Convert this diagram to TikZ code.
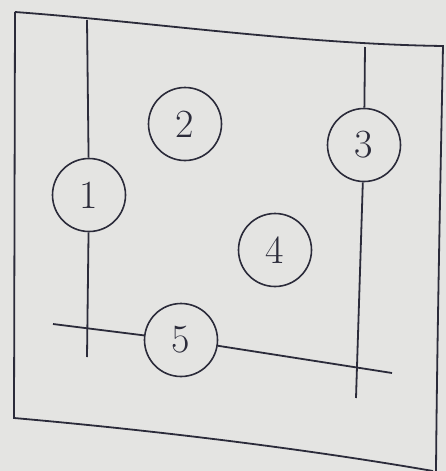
\documentclass[tikz,border=0pt]{standalone}
\begin{document}
\begin{tikzpicture}[x=1pt,y=-1pt,
  ink/.style={draw=inkc,line width=1.8pt},
  numc/.style={circle,draw=inkc,line width=1.6pt,minimum size=73pt,inner sep=0pt,
    text=inkc,font=\fontsize{40}{40}\selectfont},
  ]
\definecolor{inkc}{HTML}{2B2B3A}
\definecolor{paper}{HTML}{E4E4E2}
\fill[paper] (0,0) rectangle (446,471);
\useasboundingbox (0,0) rectangle (446,471);
% frame
\draw[ink] (15,12) .. controls (150,22) and (300,44) .. (443,46)
  .. controls (440,200) and (437,350) .. (436,471);
\draw[ink] (15,12) -- (14,418) .. controls (150,430) and (300,448) .. (433,471);
% circles
\node[numc] (c1) at (89,195) {1};
\node[numc] (c2) at (185,124) {2};
\node[numc] (c3) at (364,145) {3};
\node[numc] (c4) at (275,250) {4};
\node[numc] (c5) at (181,340) {5};
% line ends
\coordinate (v1t) at (87,20);
\coordinate (v1b) at (87,357);
\coordinate (v2t) at (365,47);
\coordinate (v2b) at (356,398);
\coordinate (hl) at (53,324);
\coordinate (hr) at (392,373);
\draw[ink] (v1t) -- (c1);
\draw[ink] (c1) -- (v1b);
\draw[ink] (v2t) -- (c3);
\draw[ink] (c3) -- (v2b);
\draw[ink] (hl) -- (c5);
\draw[ink] (c5) -- (hr);
\end{tikzpicture}
\end{document}
